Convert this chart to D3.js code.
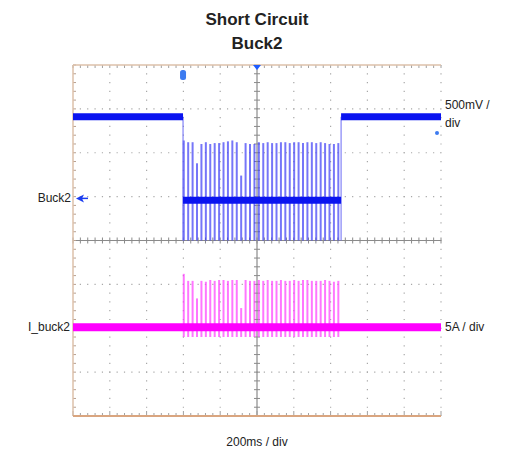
<!DOCTYPE html>
<html>
<head>
<meta charset="utf-8">
<script src="https://cdn.jsdelivr.net/npm/d3@7"></script>
<style>
  body { margin: 0; background: #fff; }
  text { font-family: "Liberation Sans", Arial, sans-serif; fill: #222; }
</style>
</head>
<body>
<div id="chart"></div>
<script>
// Scope settings
const timePerDiv = 200;      // ms / div
const voltPerDiv = 0.5;      // V / div  (Buck2)
const ampPerDiv = 5;         // A / div  (I_buck2)
const buck2Offset = 0.96;    // div above centre
const ibuckOffset = -1.98;   // div above centre

// Buck2 voltage: steady levels (ms, V)
const buck2Levels = [
    { t0: 0, t1: 598, v: 0.93 },
    { t0: 598, t1: 1457, v: -0.02 },
    { t0: 1457, t1: 2000, v: 0.93 }
];

// hiccup pulses (ms) during short circuit
const pulseTimes = [602, 626, 650, 674, 698, 722, 746, 770, 794, 818, 842, 866,
    890, 914, 938, 962, 986, 1010, 1034, 1058, 1082, 1106, 1130, 1154,
    1178, 1202, 1226, 1250, 1274, 1298, 1322, 1346, 1370, 1394, 1418, 1442];
const buck2PulseTop = [0.66, 0.64, 0.64, 0.40, 0.62, 0.64, 0.62, 0.63, 0.63, 0.64, 0.65, 0.66,
    0.64, 0.26, 0.63, 0.62, 0.62, 0.64, 0.63, 0.64, 0.63, 0.63, 0.64, 0.64,
    0.63, 0.64, 0.64, 0.63, 0.64, 0.64, 0.63, 0.64, 0.63, 0.62, 0.62, 0.63];
const buck2PulseLow = -0.48;
const ibuckPulseTop = [6.1, 5.3, 5.3, 3.3, 5.3, 5.2, 5.4, 5.3, 5.4, 5.4, 5.3, 5.4,
    5.4, 2.2, 5.4, 5.3, 5.3, 5.4, 5.3, 5.4, 5.3, 5.3, 5.4, 5.3,
    5.3, 5.4, 5.3, 5.4, 5.4, 5.3, 5.3, 5.3, 5.4, 5.3, 5.2, 5.3];
const ibuckPulseLow = -1.1;
const ibuckLevel = 0;

const width = 508, height = 457;
const pLeft = 73, pRight = 441, pTop = 65, pBottom = 416;

const svg = d3.select('#chart').append('svg')
    .attr('width', width)
    .attr('height', height);

const x = d3.scaleLinear().domain([0, 10 * timePerDiv]).range([pLeft, pRight]);
const y = d3.scaleLinear().domain([4, -4]).range([pTop, pBottom]);
const yV = v => y(v / voltPerDiv + buck2Offset);
const yA = a => y(a / ampPerDiv + ibuckOffset);

const divW = (pRight - pLeft) / 10, divH = (pBottom - pTop) / 8;
const dotCol = '#a8a8a8';

// dotted grid
const grid = svg.append('g');
d3.range(1, 11).filter(i => i !== 5).forEach(i => {
    grid.append('line')
        .attr('x1', x(i * timePerDiv)).attr('x2', x(i * timePerDiv))
        .attr('y1', pTop).attr('y2', pBottom)
        .attr('stroke', dotCol).attr('stroke-width', 1.2)
        .attr('stroke-dasharray', `1.2 ${divH / 5 - 1.2}`)
        .attr('stroke-dashoffset', 0.6);
});
d3.range(-3, 4).filter(i => i !== 0).forEach(i => {
    grid.append('line')
        .attr('x1', pLeft).attr('x2', pRight)
        .attr('y1', y(i)).attr('y2', y(i))
        .attr('stroke', dotCol).attr('stroke-width', 1.2)
        .attr('stroke-dasharray', `1.2 ${divW / 5 - 1.2}`)
        .attr('stroke-dashoffset', 0.6);
});

// centre axes with minor ticks
const cx = x(5 * timePerDiv), cy = y(0);
grid.append('line').attr('x1', cx).attr('x2', cx).attr('y1', pTop).attr('y2', pBottom)
    .attr('stroke', '#8a8a8a').attr('stroke-width', 1.2);
grid.append('line').attr('x1', pLeft).attr('x2', pRight).attr('y1', cy).attr('y2', cy)
    .attr('stroke', '#8a8a8a').attr('stroke-width', 1.2);
d3.range(0, 41).forEach(i => {
    const yy = pTop + i * divH / 5;
    grid.append('line').attr('x1', cx - 3).attr('x2', cx + 3).attr('y1', yy).attr('y2', yy)
        .attr('stroke', '#8a8a8a').attr('stroke-width', 1);
    grid.append('line').attr('x1', pLeft).attr('x2', pLeft + 3).attr('y1', yy).attr('y2', yy)
        .attr('stroke', '#b8a090').attr('stroke-width', 1);
});
d3.range(0, 51).forEach(i => {
    const xx = pLeft + i * divW / 5;
    grid.append('line').attr('x1', xx).attr('x2', xx).attr('y1', cy - 3).attr('y2', cy + 3)
        .attr('stroke', '#8a8a8a').attr('stroke-width', 1);
    // border ticks top / bottom
    grid.append('line').attr('x1', xx).attr('x2', xx).attr('y1', pTop).attr('y2', pTop + 3)
        .attr('stroke', '#a0a0a0').attr('stroke-width', 1);
    grid.append('line').attr('x1', xx).attr('x2', xx).attr('y1', pBottom).attr('y2', pBottom - (i % 5 === 0 ? 5 : 3))
        .attr('stroke', '#a0a0a0').attr('stroke-width', 1);
});

// frame
grid.append('line').attr('x1', pLeft).attr('x2', pRight).attr('y1', pTop).attr('y2', pTop)
    .attr('stroke', '#dcc0aa').attr('stroke-width', 1.5);
grid.append('line').attr('x1', pLeft).attr('x2', pLeft).attr('y1', pTop).attr('y2', pBottom)
    .attr('stroke', '#dcc0aa').attr('stroke-width', 1.5);
grid.append('line').attr('x1', pLeft).attr('x2', pRight).attr('y1', pBottom).attr('y2', pBottom)
    .attr('stroke', '#d9a57f').attr('stroke-width', 2);

// Buck2 pulses
svg.append('g').selectAll('line')
    .data(pulseTimes)
    .join('line')
    .attr('x1', d => x(d)).attr('x2', d => x(d))
    .attr('y1', (d, i) => yV(buck2PulseTop[i]))
    .attr('y2', yV(buck2PulseLow))
    .attr('stroke', '#3c3cf5').attr('stroke-opacity', 0.7).attr('stroke-width', 2);

// Buck2 levels
const buck2Line = d3.line().x(d => x(d[0])).y(d => yV(d[1]));
[buck2Levels[0].t1, buck2Levels[1].t1].forEach(t => {
    svg.append('path')
        .attr('d', buck2Line([[t, buck2Levels[0].v], [t, buck2PulseLow]]))
        .attr('stroke', '#6a6af5').attr('stroke-width', 1).attr('fill', 'none');
});
buck2Levels.forEach(s => {
    svg.append('path')
        .attr('d', buck2Line([[s.t0, s.v], [s.t1, s.v]]))
        .attr('stroke', '#0a14f0').attr('stroke-width', 7).attr('fill', 'none');
});

// I_buck2 pulses
svg.append('g').selectAll('line')
    .data(pulseTimes)
    .join('line')
    .attr('x1', d => x(d)).attr('x2', d => x(d))
    .attr('y1', (d, i) => yA(ibuckPulseTop[i]))
    .attr('y2', yA(ibuckPulseLow))
    .attr('stroke', '#ff3cff').attr('stroke-opacity', 0.7).attr('stroke-width', 2);
svg.append('path')
    .attr('d', d3.line().x(d => x(d[0])).y(d => yA(d[1]))([[0, ibuckLevel], [2000, ibuckLevel]]))
    .attr('stroke', '#ff00ff').attr('stroke-width', 8).attr('fill', 'none');

// markers
svg.append('rect').attr('x', x(buck2Levels[0].t1) - 3).attr('y', 70).attr('width', 6).attr('height', 10)
    .attr('rx', 2.5).attr('fill', '#3d7bf0');
svg.append('path').attr('d', `M${cx - 4},${pTop} L${cx + 4},${pTop} L${cx},${pTop + 5} Z`).attr('fill', '#1e5cff');
svg.append('path').attr('d', `M${pLeft + 3},${yV(0)} L${pLeft + 11},${yV(0) - 4} L${pLeft + 9},${yV(0)} L${pLeft + 11},${yV(0) + 4} Z`)
    .attr('fill', '#1a3cf0');
svg.append('line').attr('x1', pLeft + 8).attr('x2', pLeft + 15).attr('y1', yV(0)).attr('y2', yV(0))
    .attr('stroke', '#1a3cf0').attr('stroke-width', 1.5);
svg.append('circle').attr('cx', pRight - 4).attr('cy', 133).attr('r', 2).attr('fill', '#3d7bf0');

// labels
svg.append('text').attr('x', width / 2 + 3).attr('y', 25).attr('text-anchor', 'middle')
    .style('font-size', '17px').style('font-weight', 'bold').text('Short Circuit');
svg.append('text').attr('x', width / 2 + 3).attr('y', 49).attr('text-anchor', 'middle')
    .style('font-size', '17px').style('font-weight', 'bold').text('Buck2');
svg.append('text').attr('x', pLeft - 2).attr('y', yV(0) + 4).attr('text-anchor', 'end')
    .style('font-size', '12px').text('Buck2');
svg.append('text').attr('x', pLeft - 3).attr('y', yA(0) + 4).attr('text-anchor', 'end')
    .style('font-size', '12px').text('I_buck2');
svg.append('text').attr('x', pRight + 4).attr('y', 109).style('font-size', '12px').text('500mV /');
svg.append('text').attr('x', pRight + 4).attr('y', 127).style('font-size', '12px').text('div');
svg.append('text').attr('x', pRight + 4).attr('y', yA(0) + 4).style('font-size', '12px').text('5A / div');
svg.append('text').attr('x', cx).attr('y', 446).attr('text-anchor', 'middle')
    .style('font-size', '12px').text('200ms / div');
</script>
</body>
</html>
